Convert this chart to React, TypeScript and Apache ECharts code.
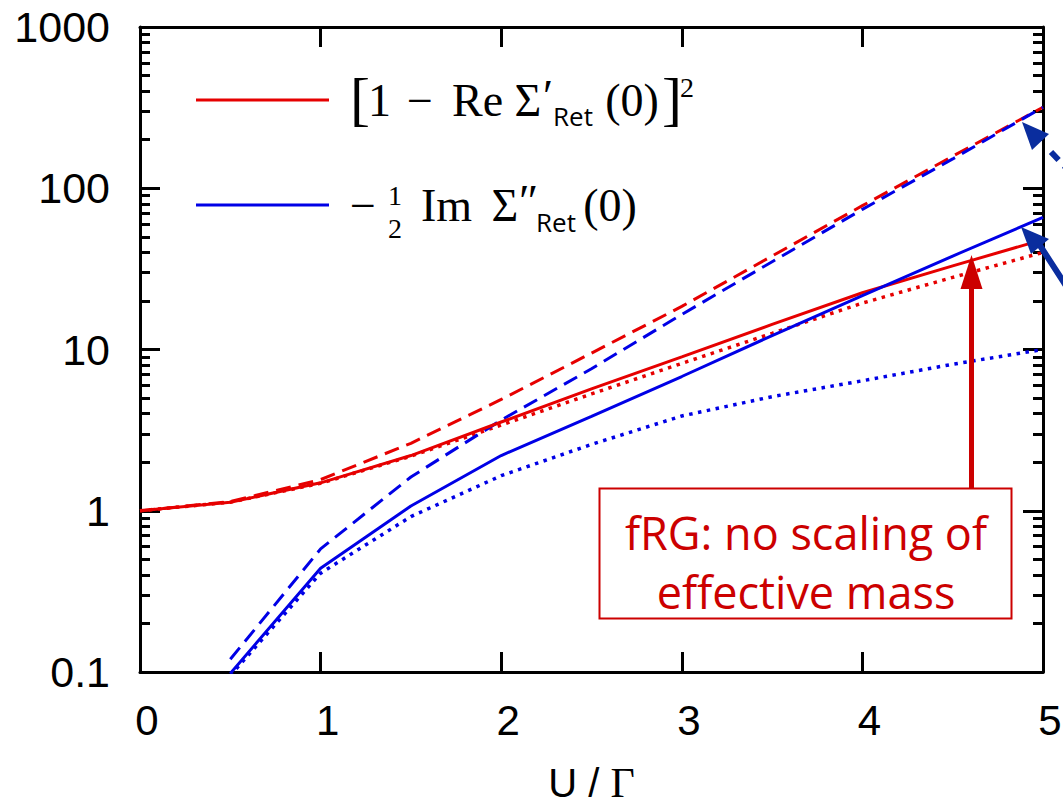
import React, { useEffect, useRef } from "react";
import * as echarts from "echarts";

// ---- data ----
const uValues = [0, 0.5, 1, 1.5, 2, 2.5, 3, 3.5, 4, 4.5, 5];
const redSolid = [1, 1.13, 1.49, 2.2, 3.55, 5.7, 9.0, 14.3, 22.5, 33, 48];
const redDashed = [1, 1.14, 1.56, 2.62, 4.9, 9.5, 18.5, 38, 78, 158, 318];
const redDotted = [1, 1.13, 1.48, 2.18, 3.4, 5.3, 8.2, 12.6, 19.4, 28, 40];
const blueSolid = [null, 0.098, 0.44, 1.07, 2.2, 3.85, 6.8, 12.2, 21.6, 38, 66];
const blueDashed = [null, 0.12, 0.58, 1.62, 3.65, 7.6, 16.5, 35, 74, 152, 318];
const blueDotted = [null, 0.095, 0.41, 0.92, 1.65, 2.58, 3.87, 5.1, 6.4, 8.1, 10];

const xTickLabels = ["0", "1", "2", "3", "4", "5"];
const yTickLabels = ["0.1", "1", "10", "100", "1000"];

const RED = "#e60000";
const BLUE = "#0000e6";
const DARKRED = "#cc0000";
const DARKBLUE = "#0a2d9e";
const SERIF = "Liberation Serif";
const SANS = "Liberation Sans";
const CMSS = "Open Sans";

function pairs(ys: (number | null)[]) {
  const out: number[][] = [];
  ys.forEach((y, i) => {
    if (y !== null) out.push([uValues[i], y]);
  });
  return out;
}

function lineSeries(name: string, ys: (number | null)[], color: string, type: any, width: number) {
  return {
    name,
    type: "line",
    data: pairs(ys),
    showSymbol: false,
    symbol: "none",
    clip: true,
    xAxisIndex: 0,
    yAxisIndex: 0,
    lineStyle: { color, width, type, cap: "butt" },
    z: 3,
  };
}

function txt(text: string, x: number, y: number, size: number, family: string, align = "left", color = "#000") {
  return {
    type: "text",
    x,
    y,
    z: 20,
    style: {
      text,
      fontSize: size,
      fontFamily: family,
      fill: color,
      textAlign: align,
      textVerticalAlign: "middle",
      align,
      verticalAlign: "middle",
    },
  };
}

export default function App() {
  const ref = useRef<HTMLDivElement>(null);

  useEffect(() => {
    if (!ref.current) return;
    const chart = echarts.init(ref.current, undefined, { renderer: "svg" });

    const axisCommonX = {
      type: "value",
      min: 0,
      max: 5,
      interval: 1,
      splitLine: { show: false },
      axisLine: { show: true, onZero: false, lineStyle: { color: "#000", width: 3 } },
      axisTick: { show: true, inside: true, length: 20, lineStyle: { color: "#000", width: 3 } },
    };
    const axisCommonY = {
      type: "log",
      logBase: 10,
      min: 0.1,
      max: 1000,
      splitLine: { show: false },
      minorSplitLine: { show: false },
      axisLine: { show: true, onZero: false, lineStyle: { color: "#000", width: 3 } },
      axisTick: { show: true, inside: true, length: 20, lineStyle: { color: "#000", width: 3 } },
      minorTick: { show: true, splitNumber: 9, length: 10, lineStyle: { color: "#000", width: 3 } },
    };

    const graphic: any[] = [];
    // legend
    graphic.push({ type: "line", z: 20, shape: { x1: 196, y1: 100, x2: 329, y2: 100 }, style: { stroke: RED, lineWidth: 3 } });
    graphic.push({ type: "line", z: 20, shape: { x1: 196, y1: 205, x2: 329, y2: 205 }, style: { stroke: BLUE, lineWidth: 3 } });
    // legend 1: [1 − Re Σ'_Ret(0)]^2
    graphic.push(txt("[", 350, 99, 60, SERIF));
    graphic.push(txt("1", 368, 100, 46, SERIF));
    graphic.push(txt("−", 420, 100, 46, SERIF, "center"));
    graphic.push(txt("Re", 452, 100, 46, SERIF));
    graphic.push(txt("Σ", 528, 100, 46, SERIF, "center"));
    graphic.push(txt("′", 543, 96, 46, SERIF));
    graphic.push(txt("Ret", 553, 116, 26, CMSS));
    graphic.push(txt("(0)", 632, 100, 46, SERIF, "center"));
    graphic.push(txt("]", 662, 99, 60, SERIF));
    graphic.push(txt("2", 680, 87, 28, SERIF));
    // legend 2: −½ Im Σ''_Ret(0)
    graphic.push(txt("−", 363, 205, 46, SERIF, "center"));
    graphic.push(txt("1", 395, 195, 28, SERIF, "center"));
    graphic.push(txt("2", 395, 228, 28, SERIF, "center"));
    graphic.push(txt("Im", 421, 205, 46, SERIF));
    graphic.push(txt("Σ", 505, 205, 46, SERIF, "center"));
    graphic.push(txt("″", 519, 201, 46, SERIF));
    graphic.push(txt("Ret", 536, 222, 26, CMSS));
    graphic.push(txt("(0)", 610, 205, 46, SERIF, "center"));

    // red annotation
    graphic.push({ type: "line", z: 15, shape: { x1: 971.5, y1: 488, x2: 971.5, y2: 282 }, style: { stroke: DARKRED, lineWidth: 5 } });
    graphic.push({ type: "polygon", z: 15, shape: { points: [[971.5, 255], [960.5, 289], [982.5, 289]] }, style: { fill: DARKRED } });
    graphic.push({ type: "rect", z: 15, shape: { x: 599.5, y: 488.5, width: 412, height: 130 }, style: { fill: "#fff", stroke: DARKRED, lineWidth: 2 } });
    graphic.push(txt("fRG: no scaling of", 806, 532, 45, CMSS, "center", DARKRED));
    graphic.push(txt("effective mass", 806, 591, 45, CMSS, "center", DARKRED));

    // blue arrows (entering from the right edge)
    graphic.push({ type: "polygon", z: 15, shape: { points: [[1022, 122], [1032, 150], [1049, 134]] }, style: { fill: DARKBLUE } });
    graphic.push({ type: "line", z: 15, shape: { x1: 1051, y1: 152, x2: 1095, y2: 198 }, style: { stroke: DARKBLUE, lineWidth: 6, lineDash: [11, 8] } });
    graphic.push({ type: "polygon", z: 15, shape: { points: [[1021, 227], [1031, 254], [1049, 239]] }, style: { fill: DARKBLUE } });
    graphic.push({ type: "polyline", z: 15, shape: { points: [[1039, 244], [1063, 281], [1078, 305]] }, style: { stroke: DARKBLUE, lineWidth: 6, fill: null } });

    const option: any = {
      animation: false,
      backgroundColor: "#fff",
      grid: { left: 140, right: 20, top: 27, bottom: 136, containLabel: false, outerBoundsMode: "none" },
      xAxis: [
        {
          ...axisCommonX,
          position: "bottom",
          name: "U / {g|Γ}",
          nameLocation: "middle",
          nameGap: 91,
          nameTextStyle: {
            fontSize: 40,
            fontFamily: SANS,
            color: "#000",
            lineHeight: 40,
            rich: { g: { fontSize: 42, fontFamily: SERIF, color: "#000", lineHeight: 40 } },
          },
          axisLabel: {
            show: true,
            margin: 27,
            fontSize: 42,
            fontFamily: SANS,
            color: "#000",
            padding: [0, 0, 0, 14],
            formatter: (v: number) => xTickLabels[Math.round(v)] ?? "",
          },
        },
        { ...axisCommonX, position: "top", axisLabel: { show: false } },
      ],
      yAxis: [
        {
          ...axisCommonY,
          position: "left",
          axisLabel: {
            show: true,
            margin: 30,
            fontSize: 43,
            fontFamily: SANS,
            color: "#000",
            formatter: (v: number) => yTickLabels[Math.round(Math.log10(v)) + 1] ?? "",
          },
        },
        { ...axisCommonY, position: "right", axisLabel: { show: false } },
      ],
      series: [
        lineSeries("Re dotted", redDotted, RED, [3.5, 5.5], 3.5),
        lineSeries("Im dotted", blueDotted, BLUE, [3.5, 5.5], 3.5),
        lineSeries("Re dashed", redDashed, RED, [15, 8], 3),
        lineSeries("Im dashed", blueDashed, BLUE, [15, 8], 3),
        lineSeries("[1 − Re Σ′Ret(0)]²", redSolid, RED, "solid", 3),
        lineSeries("−½ Im Σ″Ret(0)", blueSolid, BLUE, "solid", 3),
      ],
      graphic: { elements: graphic },
    };

    chart.setOption(option);
    return () => chart.dispose();
  }, []);

  return (
    <div
      ref={ref}
      style={{ position: "fixed", left: 0, top: 0, width: 1063, height: 808, background: "#fff" }}
    />
  );
}
